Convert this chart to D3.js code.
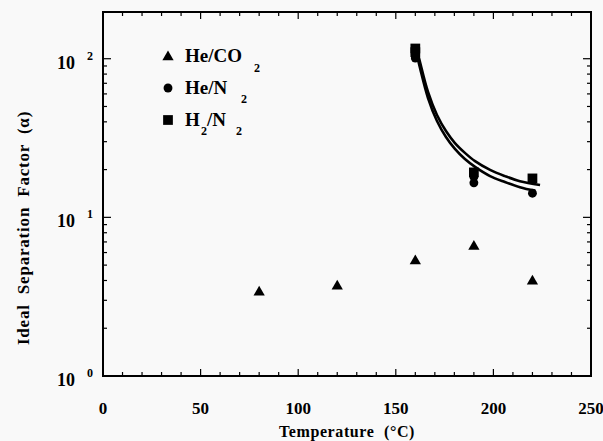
<!DOCTYPE html>
<html>

<head>
    <title></title>
    <style>
        body { margin: 0; background: #f9f9f9; }
        text { font-family: "Liberation Serif", "Times New Roman", serif; font-weight: bold; fill: #000; }
    </style>
</head>

<body>
    <script src="https://d3js.org/d3.v7.min.js"></script>
    <script>

    // data
    var heCO2_T = [80, 120, 160, 190, 220];
    var heCO2_a = [3.37, 3.68, 5.3, 6.55, 3.96];

    var heN2_T = [160, 160, 190, 190, 220];
    var heN2_a = [101, 106, 16.5, 18, 14.2];

    var h2N2_T = [160, 160, 190, 220];
    var h2N2_a = [116, 110, 19.2, 17.6];

    // fitted curves, points
    var fitH2_T = [160.3, 162.4, 166.5, 171.1, 175.7, 180.3, 185.4, 190.6, 198.3, 205.9, 213.6, 223.9];
    var fitH2_a = [122, 95.3, 61.7, 44.2, 35.0, 29.4, 25.5, 22.6, 19.9, 18.2, 16.9, 16.0];
    var fitHe_T = [160.3, 162.4, 166.5, 171.1, 175.7, 180.3, 185.4, 190.6, 198.3, 205.9, 213.6, 221.5];
    var fitHe_a = [113, 87.4, 56.5, 40.5, 32.1, 27.0, 23.3, 20.8, 18.2, 16.7, 15.5, 14.7];

    var xTicks = [0, 50, 100, 150, 200, 250];
    var yTicks = [1, 10, 100];
    var yExp = ["0", "1", "2"];

    var W = 603, H = 441;
    var margin = { top: 12, right: 12, bottom: 65, left: 103 },
        width = W - margin.left - margin.right,
        height = H - margin.top - margin.bottom;

    var svg = d3.select("body")
        .append("svg")
        .attr("width", W)
        .attr("height", H);

    var g = svg.append("g")
        .attr("transform", "translate(" + margin.left + "," + margin.top + ")");

    var x = d3.scaleLinear().domain([0, 250]).range([0, width]);
    var y = d3.scaleLog().domain([1, 197]).range([height, 0]);

    // minor / major ticks, inward on all four sides
    var xMinor = d3.range(0, 251, 10);
    var yMinor = [];
    [1, 10, 100].forEach(function(d) {
        for (var k = 1; k < 10; k++) if (d * k <= 197) yMinor.push(d * k);
    });

    var tickG = g.append("g").attr("stroke", "#000").attr("stroke-width", 1.2);

    xMinor.forEach(function(t) {
        var len = (t % 50 === 0) ? 7 : 4;
        tickG.append("line").attr("x1", x(t)).attr("x2", x(t)).attr("y1", height).attr("y2", height - len);
        tickG.append("line").attr("x1", x(t)).attr("x2", x(t)).attr("y1", 0).attr("y2", len);
    });
    yMinor.forEach(function(t) {
        var len = (yTicks.indexOf(t) >= 0) ? 8 : 4;
        tickG.append("line").attr("y1", y(t)).attr("y2", y(t)).attr("x1", 0).attr("x2", len);
        tickG.append("line").attr("y1", y(t)).attr("y2", y(t)).attr("x1", width).attr("x2", width - len);
    });

    // frame
    g.append("rect")
        .attr("width", width)
        .attr("height", height)
        .attr("fill", "none")
        .attr("stroke", "#000")
        .attr("stroke-width", 2);

    // x tick labels
    g.selectAll(".xl")
        .data(xTicks)
        .enter().append("text")
        .attr("x", function(d) { return x(d); })
        .attr("y", height + 38)
        .attr("text-anchor", "middle")
        .style("font-size", "17px")
        .text(function(d) { return d; });

    // y tick labels, 10 with raised exponent
    yTicks.forEach(function(d, i) {
        var yy = y(d);
        g.append("text")
            .attr("x", -28)
            .attr("y", yy + 10)
            .attr("text-anchor", "end")
            .style("font-size", "18px")
            .text("10");
        g.append("text")
            .attr("x", -16)
            .attr("y", yy + 1)
            .attr("text-anchor", "start")
            .style("font-size", "12px")
            .text(yExp[i]);
    });

    // axis titles
    svg.append("text")
        .attr("x", 347)
        .attr("y", 437)
        .attr("text-anchor", "middle")
        .style("font-size", "16px")
        .style("letter-spacing", "0.6px")
        .style("word-spacing", "5px")
        .text("Temperature (°C)");

    svg.append("text")
        .attr("transform", "translate(29,228) rotate(-90)")
        .attr("text-anchor", "middle")
        .style("font-size", "17px")
        .style("letter-spacing", "0.8px")
        .style("word-spacing", "5px")
        .text("Ideal Separation Factor (α)");

    // fitted curves
    var line = d3.line()
        .x(function(d) { return x(d[0]); })
        .y(function(d) { return y(d[1]); })
        .curve(d3.curveCatmullRom.alpha(0.5));

    [[fitH2_T, fitH2_a], [fitHe_T, fitHe_a]].forEach(function(s) {
        g.append("path")
            .datum(d3.zip(s[0], s[1]))
            .attr("fill", "none")
            .attr("stroke", "#000")
            .attr("stroke-width", 2.6)
            .attr("d", line);
    });

    // markers
    var tri = d3.symbol().type(d3.symbolTriangle).size(55);
    var circ = d3.symbol().type(d3.symbolCircle).size(62);
    var sq = d3.symbol().type(d3.symbolSquare).size(95);

    g.selectAll(".tri")
        .data(d3.zip(heCO2_T, heCO2_a))
        .enter().append("path")
        .attr("d", tri)
        .attr("transform", function(d) { return "translate(" + x(d[0]) + "," + y(d[1]) + ")"; });

    g.selectAll(".sq")
        .data(d3.zip(h2N2_T, h2N2_a))
        .enter().append("path")
        .attr("d", sq)
        .attr("transform", function(d) { return "translate(" + x(d[0]) + "," + y(d[1]) + ")"; });

    g.selectAll(".circ")
        .data(d3.zip(heN2_T, heN2_a))
        .enter().append("path")
        .attr("d", circ)
        .attr("transform", function(d) { return "translate(" + x(d[0]) + "," + y(d[1]) + ")"; });

    // legend
    var leg = svg.append("g");
    leg.append("path").attr("d", tri).attr("transform", "translate(168,57)");
    leg.append("path").attr("d", circ).attr("transform", "translate(168,88)");
    leg.append("path").attr("d", sq).attr("transform", "translate(168,120)");

    var t1 = leg.append("text").attr("x", 185).attr("y", 62).style("font-size", "19px");
    t1.append("tspan").text("He/CO");
    t1.append("tspan").attr("x", 254).attr("y", 72).style("font-size", "12px").text("2");

    var t2 = leg.append("text").attr("x", 185).attr("y", 94).style("font-size", "19px");
    t2.append("tspan").text("He/N");
    t2.append("tspan").attr("x", 241).attr("y", 103).style("font-size", "12px").text("2");

    var t3 = leg.append("text").attr("x", 185).attr("y", 126).style("font-size", "19px");
    t3.append("tspan").text("H");
    t3.append("tspan").attr("x", 201).attr("y", 135).style("font-size", "12px").text("2");
    t3.append("tspan").attr("x", 207).attr("y", 126).text("/N");
    t3.append("tspan").attr("x", 236).attr("y", 135).style("font-size", "12px").text("2");

    </script>
</body>

</html>
